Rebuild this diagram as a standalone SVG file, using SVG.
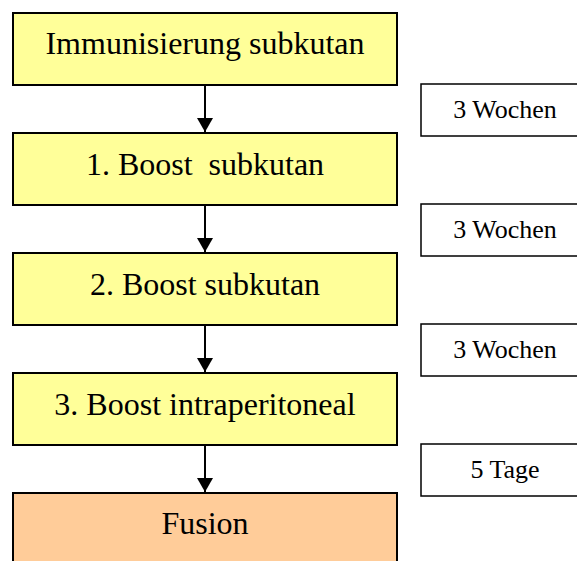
<svg xmlns="http://www.w3.org/2000/svg" width="577" height="561" viewBox="0 0 577 561">
<defs>
<style>
.step{fill:#FFFF99;stroke:#000;stroke-width:2}
.fus{fill:#FFCC99;stroke:#000;stroke-width:2}
.lbl{fill:#fff;stroke:#000;stroke-width:1.5}
.t{font-family:"Liberation Serif","Times New Roman",serif;font-size:32px;text-anchor:middle;fill:#000;white-space:pre}
.s{font-family:"Liberation Serif","Times New Roman",serif;font-size:26px;text-anchor:middle;fill:#000}
.c{stroke:#000;stroke-width:2;fill:none;marker-end:url(#ah)}
</style>
<marker id="ah" markerWidth="8" markerHeight="8" refX="7" refY="4" orient="auto" markerUnits="strokeWidth">
<path d="M0,0 L7,4 L0,8 Z" fill="#000"/>
</marker>
</defs>
<g id="connectors">
<line class="c" x1="205" y1="85" x2="205" y2="132"/>
<line class="c" x1="205" y1="205" x2="205" y2="252"/>
<line class="c" x1="205" y1="325" x2="205" y2="372"/>
<line class="c" x1="205" y1="445" x2="205" y2="492"/>
</g>
<g id="n1"><rect class="step" x="13" y="13" width="384" height="72"/><text class="t" x="205" y="54">Immunisierung subkutan</text></g>
<g id="n2"><rect class="step" x="13" y="133" width="384" height="72"/><text class="t" x="205" y="175" xml:space="preserve">1. Boost  subkutan</text></g>
<g id="n3"><rect class="step" x="13" y="253" width="384" height="72"/><text class="t" x="205" y="295">2. Boost subkutan</text></g>
<g id="n4"><rect class="step" x="13" y="373" width="384" height="72"/><text class="t" x="205" y="415">3. Boost intraperitoneal</text></g>
<g id="n5"><rect class="fus" x="13" y="493" width="384" height="80"/><text class="t" x="205" y="534">Fusion</text></g>
<g id="l1"><rect class="lbl" x="421" y="84" width="170" height="52"/><text class="s" x="505" y="118">3 Wochen</text></g>
<g id="l2"><rect class="lbl" x="421" y="204" width="170" height="52"/><text class="s" x="505" y="238">3 Wochen</text></g>
<g id="l3"><rect class="lbl" x="421" y="324" width="170" height="52"/><text class="s" x="505" y="358">3 Wochen</text></g>
<g id="l4"><rect class="lbl" x="421" y="444" width="170" height="52"/><text class="s" x="505" y="478">5 Tage</text></g>
</svg>
